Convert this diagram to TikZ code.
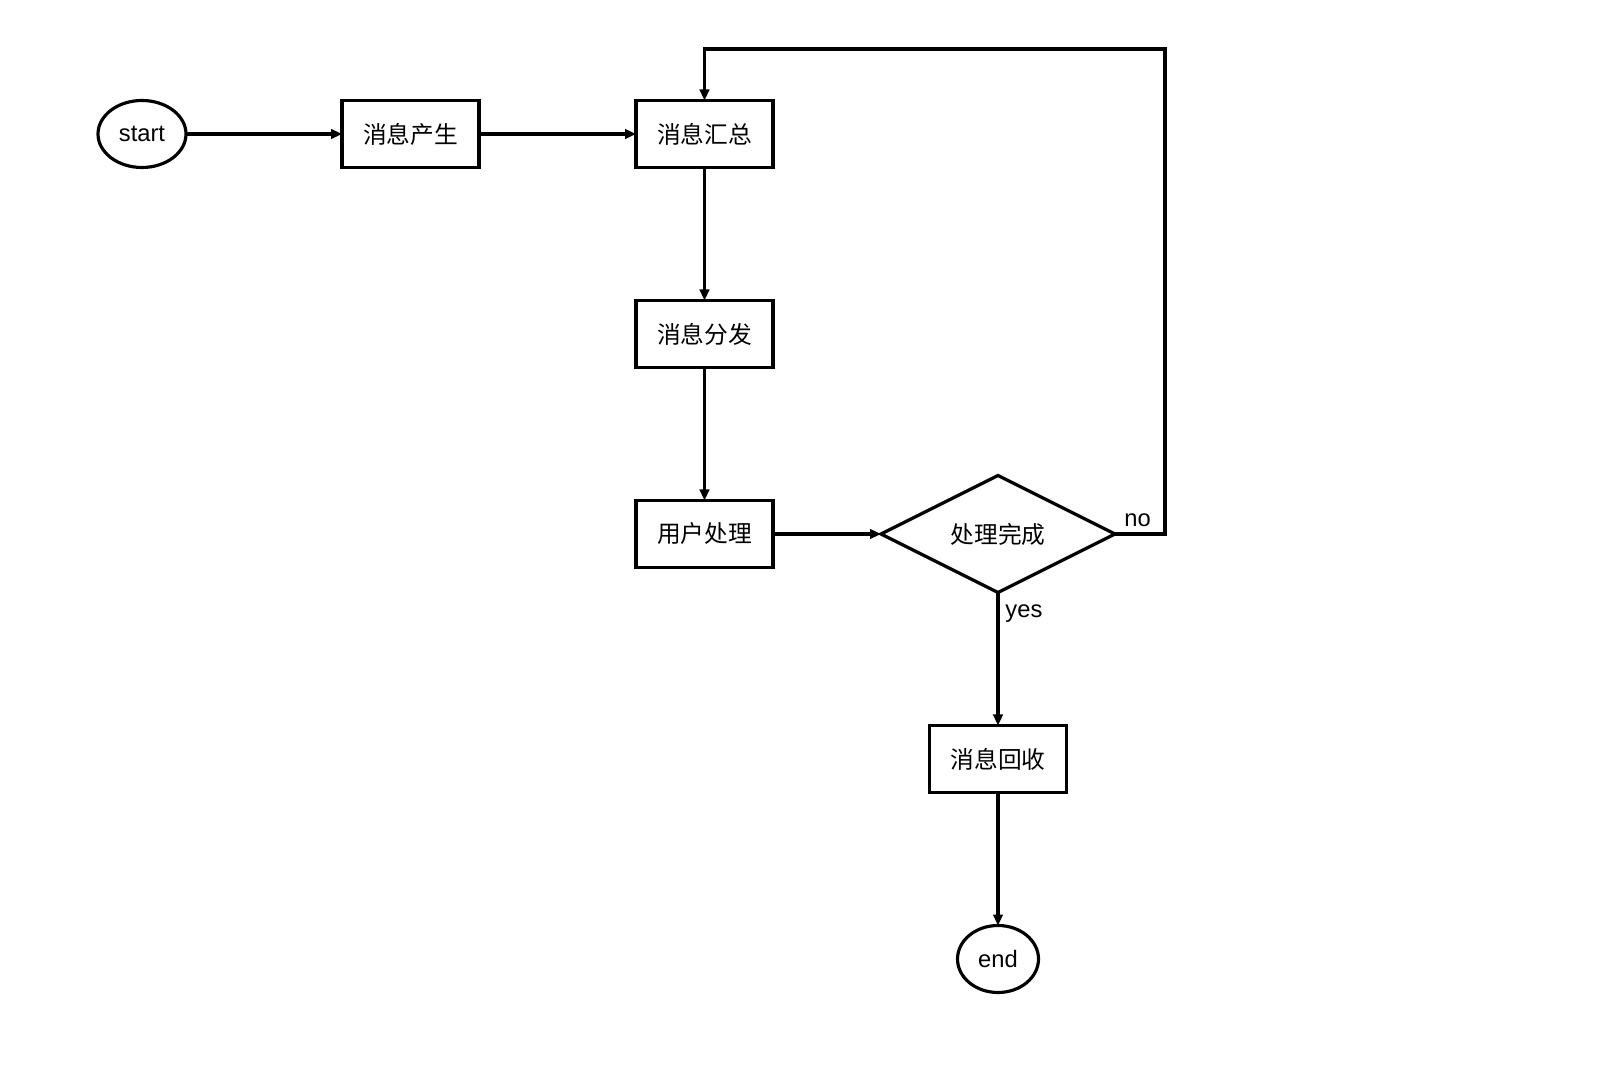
\documentclass[tikz,border=0pt]{standalone}
\usepackage{fontspec}
\setmainfont{Liberation Sans}
\newfontfamily\cjk{Noto Sans CJK SC}
\usepackage{tikz}
\usetikzlibrary{positioning, shapes.geometric, arrows.meta, calc}

\begin{document}
\begin{tikzpicture}[node distance=2.66cm, >={Triangle[length=0.22cm,width=0.19cm]},
    every node/.style={font=\fontsize{13.5}{16}\selectfont},
    procbox/.style={draw, rectangle, line width=1.8pt, outer sep=0pt, minimum width=2.74cm, minimum height=1.34cm, inner sep=0pt, font=\fontsize{13.5}{16}\selectfont\cjk},
    termnode/.style={draw, ellipse, line width=1.8pt, outer sep=0pt, minimum height=1.34cm, inner sep=0pt},
    decision/.style={draw, diamond, aspect=2, line width=1.8pt, outer sep=0pt, minimum width=4.68cm, minimum height=2.34cm, inner sep=0pt, font=\fontsize{13.5}{16}\selectfont\cjk},
    flow/.style={->, line width=1.8pt}]
    \useasboundingbox (0,0) rectangle (32.32,-21.72);

    \node [termnode, minimum width=1.76cm] (start) at (2.84,-2.68) {start};
    \node [procbox, right=3.12cm of start] (produce) {消息产生};
    \node [procbox, right=3.14cm of produce] (collect) {消息汇总};
    \node [procbox, below=of collect] (dispatch) {消息分发};
    \node [procbox, below=of dispatch] (handle) {用户处理};
    \node [decision, right=2.16cm of handle] (done) {处理完成};
    \node [procbox, below=of done] (recycle) {消息回收};
    \node [termnode, minimum width=1.62cm, below=of recycle] (end) {end};

    \coordinate [above=1.03cm of collect.north] (looptop);

    \draw [flow] (start) -- (produce);
    \draw [flow] (produce) -- (collect);
    \draw [flow] (collect) -- (dispatch);
    \draw [flow] (dispatch) -- (handle);
    \draw [flow] (handle) -- (done);
    \draw [flow] (done.east) -- node [above, pos=0.45] {no} ++(1cm,0) |- (looptop) -- (collect.north);
    \draw [flow] (done.south) -- node [right, pos=0.16] {yes} (recycle);
    \draw [flow] (recycle) -- (end);
\end{tikzpicture}
\end{document}
